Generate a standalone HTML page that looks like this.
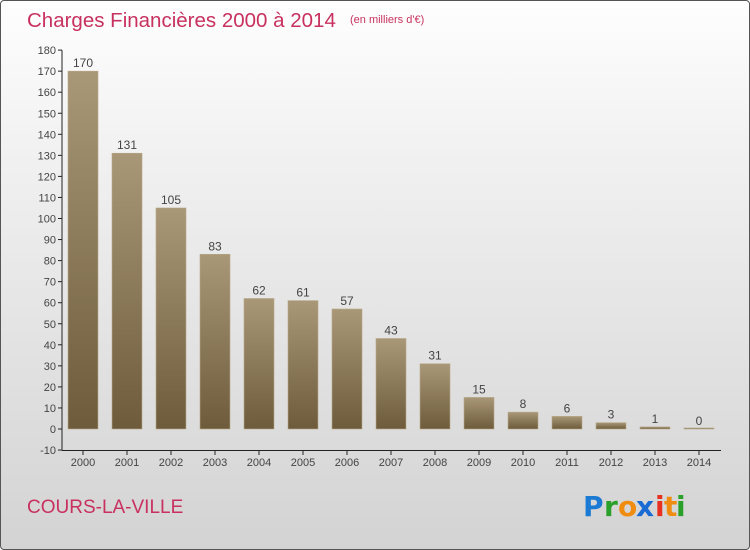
<!DOCTYPE html>
<html><head><meta charset="utf-8"><style>
html,body{margin:0;padding:0}
body{width:750px;height:550px;overflow:hidden;font-family:"Liberation Sans",sans-serif}
#wrap{position:absolute;left:0;top:0;width:748px;height:548px;border:1px solid #555;border-radius:4px;background:linear-gradient(#fefefe,#f0f0f0 30%,#d3d3d3)}
</style></head><body>
<div id="wrap">
<svg id="chart" width="750" height="550" style="position:absolute;left:-1px;top:-1px">
<defs><linearGradient id="bg" x1="0" y1="0" x2="0" y2="1"><stop offset="0" stop-color="#a99877"/><stop offset="1" stop-color="#6d5b3c"/></linearGradient></defs>
<text x="27" y="27" font-size="20.5" fill="#c8315f">Charges Financières 2000 à 2014</text>
<text x="350" y="23" font-size="11" fill="#c8315f">(en milliers d'€)</text>
<text x="27" y="513" font-size="19" fill="#c8315f">COURS-LA-VILLE</text>
<g font-size="28" font-family="'DejaVu Sans',sans-serif" font-weight="bold">
<text x="583" y="516" fill="#1a7ad4">P</text><text x="604" y="516" fill="#2aa02a">r</text><text x="618" y="516" fill="#f08c10">o</text><text x="636" y="516" fill="#1a6ad4">x</text><text x="655" y="516" fill="#e83020">i</text><text x="664" y="516" fill="#f08c10">t</text><text x="676" y="516" fill="#2aa02a">i</text></g>
<g id="axes"></g><g id="bars"></g>
</svg></div>
<script>
const years=["2000","2001","2002","2003","2004","2005","2006","2007","2008","2009","2010","2011","2012","2013","2014"];
const values=[170,131,105,83,62,61,57,43,31,15,8,6,3,1,0];
const yTicks=[-10,0,10,20,30,40,50,60,70,80,90,100,110,120,130,140,150,160,170,180];
const NS="http://www.w3.org/2000/svg";
const y=v=>429-v*2.105;
const x=i=>83+i*44;
function mk(t,a,p){const e=document.createElementNS(NS,t);for(const k in a)e.setAttribute(k,a[k]);p.appendChild(e);return e;}
const ax=document.getElementById('axes'),bs=document.getElementById('bars');
const yl=mk('line',{x1:62,y1:y(180),x2:62,y2:y(-10),stroke:'#222'},ax);


const xl=mk('line',{x1:62,y1:y(-10)+0.5,x2:721,y2:y(-10)+0.5,stroke:'#222'},ax);


yTicks.forEach(v=>{
 mk('line',{x1:58,x2:62,y1:y(v),y2:y(v),stroke:'#222'},ax);
 const t=mk('text',{x:56,y:y(v)+4,'text-anchor':'end','font-size':11,fill:'#444'},ax);t.textContent=v;
 
 
});
years.forEach((yr,i)=>{
 mk('line',{x1:x(i),x2:x(i),y1:y(-10),y2:y(-10)+5,stroke:'#222'},ax);
 const t=mk('text',{x:x(i),y:466,'text-anchor':'middle','font-size':11,fill:'#444'},ax);t.textContent=yr;
 
 
 const v=values[i];const top=y(v);const h=Math.max(y(0)-top,1);
 const r=mk('rect',{x:x(i)-15,y:top-(v===0?1:0),width:30,height:h,fill:'url(#bg)',stroke:'#b8a888','stroke-width':0.6},bs);
 
 
 const l=mk('text',{x:x(i),y:top-4,'text-anchor':'middle','font-size':12,fill:'#444'},bs);l.textContent=v;
 
 
});
</script></body></html>
